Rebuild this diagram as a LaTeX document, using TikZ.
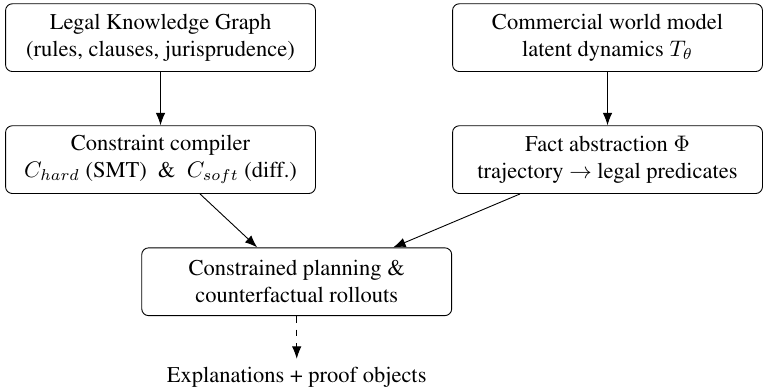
\documentclass[tikz,border=0pt]{standalone}
\usepackage[T1]{fontenc}
\usepackage{times}
\usepackage{amsmath}
\usepackage{tikz}
\usetikzlibrary{arrows.meta}

\begin{document}
\begin{tikzpicture}[box/.style={draw, rectangle, rounded corners=3, align=center, minimum width=4.84cm, minimum height=1.058cm, inner sep=2pt}, n/.style={-{Latex[length=5.5pt, width=4.2pt]}}, d/.style={-{Latex[length=5.5pt, width=4.2pt]}, dashed}]
            \useasboundingbox (0,0) rectangle (11.932,-6.044);
            % nodes
            \node[box] (legal) at (2.507,-0.588) {Legal Knowledge Graph\\(rules, clauses, jurisprudence)};
            \node[box] (world) at (9.488,-0.588) {Commercial world model\\latent dynamics $T_\theta$};

            \node[box] (compiler) at (2.507,-2.493) {Constraint compiler\\$C_{hard}$ (SMT) \ \& \ $C_{soft}$ (diff.)};
            \node[box] (facts) at (9.488,-2.493) {Fact abstraction $\Phi$\\trajectory $\rightarrow$ legal predicates};

            \node[box] (plan) at (4.634,-4.400) {Constrained planning \&\\counterfactual rollouts};

            \node[anchor=base] (expl) at (4.634,-5.966) {Explanations + proof objects};
            % edges
            \draw [n] (legal) -- (compiler);
            \draw [n] (world) -- (facts);

            \draw [n] ([xshift=0.617cm]compiler.south) -- ([xshift=-0.617cm]plan.north);
            \draw [n] ([xshift=-1.367cm]facts.south) -- ([xshift=1.507cm]plan.north);

            \draw [d] (plan) -- (expl);
        \end{tikzpicture}
\end{document}
